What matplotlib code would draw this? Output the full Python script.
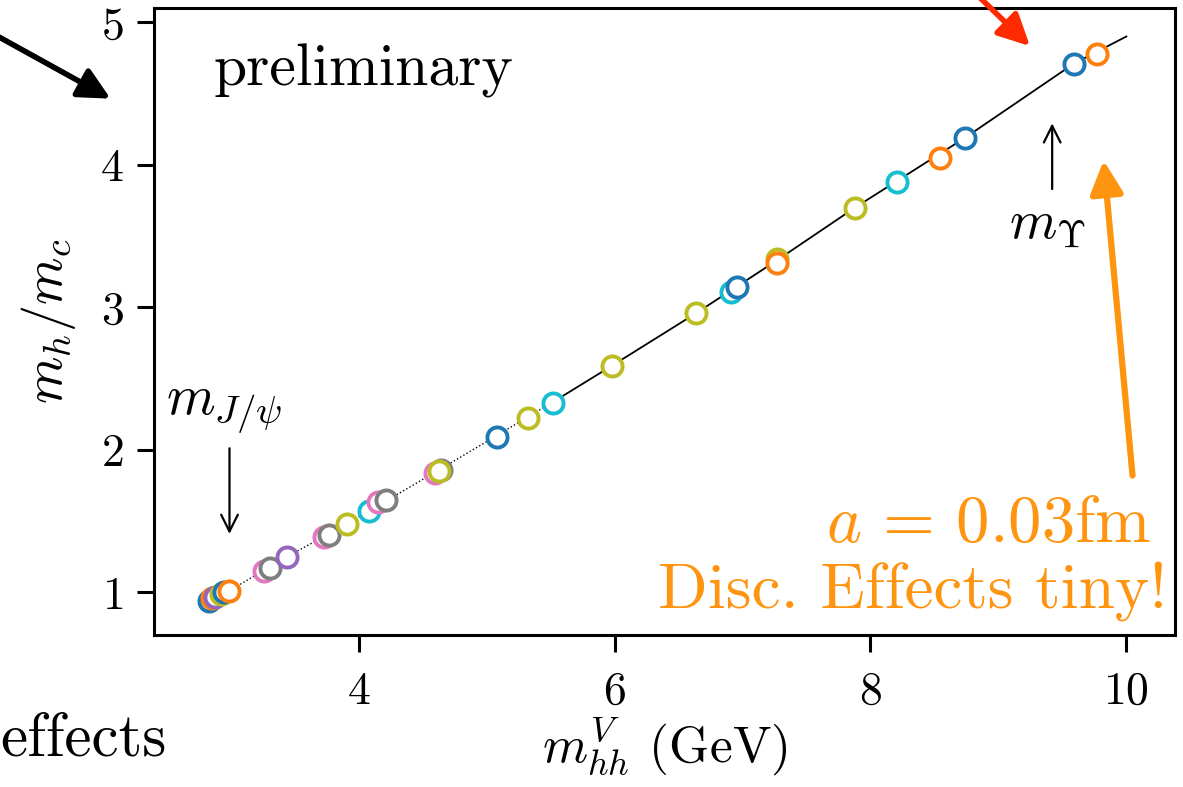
import matplotlib
matplotlib.use("Agg")
import matplotlib.pyplot as plt

plt.rcParams['font.family'] = 'serif'
plt.rcParams['font.serif'] = ['cmr10']
plt.rcParams['mathtext.fontset'] = 'cm'
plt.rcParams['axes.unicode_minus'] = False
plt.rcParams['axes.formatter.use_mathtext'] = True

# ensemble points: m_hh^V (GeV) vs m_h/m_c
mass_hh = [2.83, 2.85, 2.88, 2.92, 2.95, 2.99, 3.26, 3.31, 3.44, 3.73, 3.77,
           3.91, 4.08, 4.15, 4.21, 4.60, 4.64, 4.63, 5.08, 5.32, 5.52, 5.98,
           6.64, 6.91, 6.96, 7.27, 7.27, 7.88, 8.21, 8.54, 8.74, 9.59, 9.77]
ratio = [0.94, 0.96, 0.97, 0.99, 1.00, 1.01, 1.15, 1.17, 1.25, 1.39, 1.40,
         1.48, 1.57, 1.63, 1.65, 1.84, 1.86, 1.85, 2.09, 2.22, 2.33, 2.59,
         2.96, 3.11, 3.14, 3.34, 3.31, 3.70, 3.88, 4.05, 4.19, 4.71, 4.78]
point_colors = ['#1f77b4', '#ff7f0e', '#9467bd', '#bcbd22', '#1f77b4', '#ff7f0e',
                '#e377c2', '#7f7f7f', '#9467bd', '#e377c2', '#7f7f7f',
                '#bcbd22', '#17becf', '#e377c2', '#7f7f7f', '#e377c2', '#7f7f7f', '#bcbd22',
                '#1f77b4', '#bcbd22', '#17becf', '#bcbd22',
                '#bcbd22', '#17becf', '#1f77b4', '#bcbd22', '#ff7f0e', '#bcbd22',
                '#17becf', '#ff7f0e', '#1f77b4', '#1f77b4', '#ff7f0e']

# interpolating curve (dotted part, solid part)
curve_dot_x = [2.95, 3.44, 3.91, 4.63, 5.08, 5.60]
curve_dot_y = [0.99, 1.25, 1.48, 1.86, 2.10, 2.38]
curve_solid_x = [5.60, 5.98, 6.64, 7.27, 7.88, 8.74, 9.59, 10.0]
curve_solid_y = [2.38, 2.59, 2.96, 3.33, 3.70, 4.19, 4.71, 4.90]

W, H = 1183, 787
fig = plt.figure(figsize=(W / 100, H / 100), dpi=100)
ax = fig.add_axes([154 / W, 1 - 635 / H, 1021 / W, 627 / H])

ax.plot(curve_dot_x, curve_dot_y, color='black', lw=1.0, ls=':', zorder=1)
ax.plot(curve_solid_x, curve_solid_y, color='black', lw=1.3, ls='-', zorder=1)

for x, y, c in zip(mass_hh, ratio, point_colors):
    ax.plot(x, y, 'o', ms=14.5, mfc='white', mec=c, mew=2.8, zorder=3)

ax.set_xlim(2.40, 10.38)
ax.set_ylim(0.70, 5.10)
ax.set_xticks([4, 6, 8, 10])
ax.set_yticks([1, 2, 3, 4, 5])
ax.tick_params(labelsize=33, length=12, width=2.2)
ax.tick_params(axis='x', pad=14)
ax.tick_params(axis='y', pad=10)
for sp in ax.spines.values():
    sp.set_linewidth(2.2)

ax.set_xlabel(r'$m_{hh}^{V}$ (GeV)', fontsize=37, labelpad=2)
ax.set_ylabel(r'$m_h/m_c$', fontsize=39, labelpad=16)

ax.text(0.058, 0.90, 'preliminary', transform=ax.transAxes, fontsize=43,
        va='center', ha='left')

# particle markers
ax.annotate('', xy=(2.99, 1.39), xytext=(2.99, 2.03),
            arrowprops=dict(arrowstyle='->', color='black', lw=1.6, mutation_scale=30))
ax.text(2.95, 2.27, r'$m_{J/\psi}$', fontsize=40, ha='center', va='center')
ax.annotate('', xy=(9.42, 4.31), xytext=(9.42, 3.81),
            arrowprops=dict(arrowstyle='->', color='black', lw=1.6, mutation_scale=30))
ax.text(9.38, 3.57, r'$m_{\Upsilon}$', fontsize=39, ha='center', va='center')

orange = '#ff9410'
ax.text(0.977, 0.175, r'$a\,=\,0.03$fm', transform=ax.transAxes, fontsize=48,
        color=orange, ha='right', va='center')
ax.text(0.992, 0.068, 'Disc. Effects tiny!', transform=ax.transAxes, fontsize=47,
        color=orange, ha='right', va='center')
ax.annotate('', xy=(9.82, 4.05), xytext=(10.05, 1.80), annotation_clip=False,
            arrowprops=dict(arrowstyle='-|>', color=orange, lw=4.5, mutation_scale=50))

# arrows and text from the surrounding slide
ax.annotate('', xy=(1032, H - 48), xytext=(972, H + 10), xycoords='figure pixels',
            textcoords='figure pixels', annotation_clip=False,
            arrowprops=dict(arrowstyle='-|>', color='#ff2a00', lw=4, mutation_scale=48))
ax.annotate('', xy=(113, H - 100), xytext=(-10, H - 32), xycoords='figure pixels',
            textcoords='figure pixels', annotation_clip=False,
            arrowprops=dict(arrowstyle='-|>', color='black', lw=4, mutation_scale=48))
fig.text(0, 1 - 740 / H, 'effects', fontsize=44, ha='left', va='center')

fig.savefig('out.png', dpi=100)
